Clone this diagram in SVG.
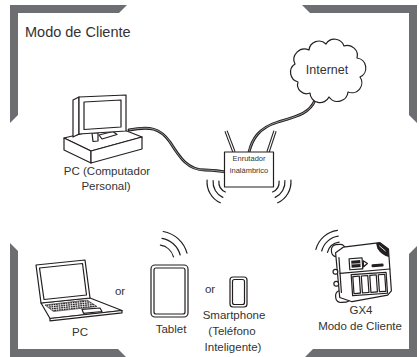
<svg xmlns="http://www.w3.org/2000/svg" width="419" height="357" viewBox="0 0 419 357">
  <style>
    .bracket { fill: #6d6e71; }
    .ln { fill: #fff; stroke: #231f20; stroke-width: 1.2; stroke-linejoin: round; }
    .open { fill: none; stroke: #231f20; stroke-width: 1.2; stroke-linecap: round; }
    .dark { fill: #231f20; }
    .cable { fill: none; stroke: #231f20; stroke-width: 2.8; stroke-linecap: round; }
    .cable-core { fill: none; stroke: #ffffff; stroke-width: 0.7; stroke-opacity: 0.75; }
    .txt { font-family: "Liberation Sans", Arial, sans-serif; fill: #333333; }
    .lbl { font-size: 11.5px; text-anchor: middle; }
  </style>
  <defs>
    <pattern id="keys" width="2.4" height="2" patternUnits="userSpaceOnUse" patternTransform="rotate(-6)">
      <rect x="0" y="0" width="1.8" height="1.3" fill="#231f20"/>
    </pattern>
  </defs>

  <!-- corner brackets -->
  <g id="brackets">
    <polygon class="bracket" points="10,5 127,5 119,13 18,13 18,115 10,123"/>
    <polygon class="bracket" points="302,5 417,5 417,123 409,115 409,13 310,13"/>
    <polygon class="bracket" points="10,243 18,251 18,349 118,349 126,357 10,357"/>
    <polygon class="bracket" points="305,357 313,349 409,349 409,254 417,246 417,357"/>
  </g>

  <text class="txt" x="25" y="37" font-size="14.5">Modo de Cliente</text>

  <!-- cables -->
  <g id="connectors">
    <path class="cable" d="M129,130 C150,126 160,128 170,142 C180,158 188,170 205,170 C213,170 218,171 225,172"/>
    <path class="cable-core" d="M129,130 C150,126 160,128 170,142 C180,158 188,170 205,170 C213,170 218,171 225,172"/>
    <path class="cable" d="M249,152 C252,140 258,128 278,122 C298,116 310,113 315,100 L319,89"/>
    <path class="cable-core" d="M249,152 C252,140 258,128 278,122 C298,116 310,113 315,100 L319,89"/>
  </g>

  <!-- desktop computer -->
  <g id="pc">
    <polygon class="ln" points="64,138 114,126 142,137 91,151"/>
    <polygon class="ln" points="64,138 91,151 91,163 64,150"/>
    <polygon class="ln" points="91,151 142,137 142,149 91,163"/>
    <polygon class="ln" points="92,133 98,133 98,141 93,141.5"/>
    <polygon class="ln" points="99,135 113,131.5 117,134.5 102,139"/>
    <polygon class="ln" points="73,100 79,97 79,134 73,137"/>
    <polygon class="ln" points="79,97 126,95 126,131 79,134"/>
    <polygon class="ln" points="84,102 121,100 121,127 84,129.5"/>
    <text class="txt lbl" x="107" y="175">PC (Computador</text>
    <text class="txt lbl" x="106" y="190">Personal)</text>
  </g>

  <!-- internet cloud -->
  <g id="internet">
    <path class="ln" d="M298,82 A10,10 0 0 1 295,64 A10.5,10.5 0 0 1 309,50 A10,10 0 0 1 326,44 A10,10 0 0 1 344,46 A10,10 0 0 1 357,58 A10,10 0 0 1 360,77 A10,10 0 0 1 348,92 A10.5,10.5 0 0 1 329,97 A10,10 0 0 1 310,93 A9,9 0 0 1 298,82 Z"/>
    <text class="txt" x="327" y="74" font-size="12.5" text-anchor="middle">Internet</text>
  </g>

  <!-- wireless router -->
  <g id="router">
    <line x1="226" y1="131" x2="234" y2="152" stroke="#231f20" stroke-width="3.4"/>
    <line x1="226" y1="131" x2="234" y2="152" stroke="#fff" stroke-width="1.2"/>
    <line x1="275" y1="131" x2="268" y2="152" stroke="#231f20" stroke-width="3.4"/>
    <line x1="275" y1="131" x2="268" y2="152" stroke="#fff" stroke-width="1.2"/>
    <rect class="ln" x="224.5" y="152" width="49" height="35"/>
    <text class="txt" x="249" y="161" font-size="7.5" text-anchor="middle" fill="#555">Enrutador</text>
    <text class="txt" x="249" y="172.5" font-size="7.5" text-anchor="middle" fill="#555">inalámbrico</text>
    <!-- signal arcs -->
    <path class="open" d="M218.9,181 A11,11 0 0 0 225.4,192"/>
    <path class="open" d="M213.1,180.5 A17,17 0 0 0 222.8,197.4"/>
    <path class="open" d="M207.1,180 A23,23 0 0 0 220.3,202.8"/>
    <path class="open" d="M279.1,181 A11,11 0 0 1 272.6,192"/>
    <path class="open" d="M284.9,180.5 A17,17 0 0 1 275.2,197.4"/>
    <path class="open" d="M290.9,180 A23,23 0 0 1 277.7,202.8"/>
  </g>

  <!-- laptop -->
  <g id="laptop">
    <polygon class="ln" points="41,303 90,298 122,310.5 50,318.5"/>
    <polygon class="ln" points="50,318.5 122,310.5 122,312.8 50,320.8"/>
    <polygon points="45,305 87,300 97,306.5 53.5,311.5" fill="url(#keys)" stroke="#231f20" stroke-width="0.6"/>
    <polygon class="ln" points="82,309.3 100,308 102,311.5 83.5,313.3"/>
    <polygon class="ln" points="36,265 85,260 90,298 41,303"/>
    <polygon class="ln" points="39.5,268 82.5,263.5 86.5,295 44,299.5"/>
    <text class="txt lbl" x="80" y="336">PC</text>
  </g>

  <text class="txt lbl" x="120" y="295">or</text>

  <!-- tablet -->
  <g id="tablet">
    <rect class="ln" x="151" y="265" width="37" height="52" rx="4"/>
    <rect class="ln" x="154" y="268" width="31" height="46" rx="2"/>
    <path class="open" d="M160.4,245.2 A16,16 0 0 1 173.5,256.9"/>
    <path class="open" d="M162,238.3 A23,23 0 0 1 180.2,255"/>
    <path class="open" d="M163.2,231.5 A30,30 0 0 1 187,253.2"/>
    <text class="txt lbl" x="171" y="333">Tablet</text>
  </g>

  <text class="txt lbl" x="210" y="293">or</text>

  <!-- smartphone -->
  <g id="smartphone">
    <rect class="ln" x="230" y="277" width="17" height="30" rx="3"/>
    <rect class="ln" x="232.5" y="279.5" width="12" height="25" rx="2"/>
    <text class="txt lbl" x="234" y="319">Smartphone</text>
    <text class="txt lbl" x="232" y="335">(Teléfono</text>
    <text class="txt lbl" x="233" y="351">Inteligente)</text>
  </g>

  <!-- GX4 controller -->
  <g id="gx4">
    <path class="open" d="M327.5,252.4 A14,14 0 0 1 339.1,242.1"/>
    <path class="open" d="M321.7,251 A20,20 0 0 1 338.2,236.2"/>
    <path class="open" d="M315.9,249.4 A26,26 0 0 1 337.4,230.3"/>
    <g transform="rotate(-4 361 272)">
      <rect class="ln" x="333" y="243" width="14" height="12" rx="5"/>
      <rect class="ln" x="334" y="289" width="15" height="12" rx="5"/>
      <path class="ln" d="M345,246 L382,244 L390,251 L390,293 L386,297 L350,301 L338,296 L337,251 Z"/>
      <line class="open" x1="340" y1="256" x2="340" y2="291"/>
      <circle class="ln" cx="335.5" cy="270" r="2.4"/>
      <circle class="ln" cx="335.5" cy="282" r="2.4"/>
      <path class="dark" d="M378,244 L382,244 L390,251 L390,259 Q383,257 379,250 Z"/>
      <line x1="381" y1="247" x2="387" y2="253" stroke="#fff" stroke-width="0.8"/>
      <rect class="ln" x="350" y="258" width="13" height="11"/>
      <rect class="dark" x="352" y="260" width="9" height="7"/>
      <line x1="352" y1="263.5" x2="361" y2="263.5" stroke="#fff" stroke-width="0.7"/>
      <polygon class="ln" points="364,261 368,264 364,267"/>
      <rect class="dark" x="372" y="265" width="12" height="3" rx="1"/>
      <line class="open" x1="340" y1="272" x2="390" y2="271"/>
      <rect class="ln" x="351" y="274" width="35" height="21"/>
      <rect class="ln" x="352.5" y="276" width="6.5" height="17"/>
      <rect class="ln" x="361" y="276" width="6.5" height="17"/>
      <rect class="ln" x="369.5" y="276" width="6.5" height="17"/>
      <rect class="ln" x="378" y="276" width="6.5" height="17"/>
    </g>
    <text class="txt lbl" x="361" y="314">GX4</text>
    <text class="txt lbl" x="360" y="330">Modo de Cliente</text>
  </g>
</svg>
